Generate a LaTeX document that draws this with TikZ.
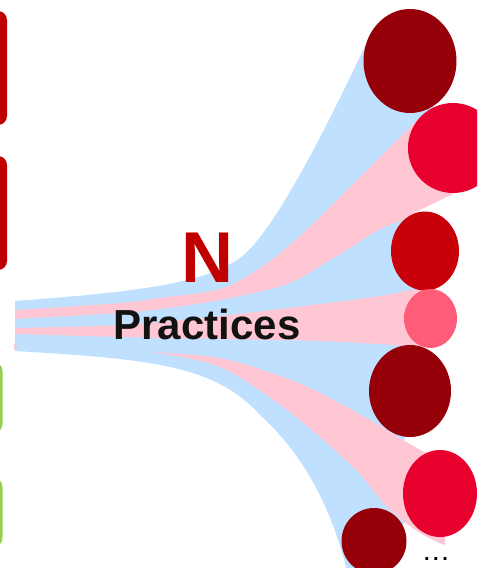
\documentclass[tikz,border=0pt]{standalone}
\usepackage{fontspec}
\setmainfont{Liberation Sans}
\usetikzlibrary{shapes.geometric}
\definecolor{bandblue}{RGB}{192,224,255}
\definecolor{bandpink}{RGB}{255,199,211}
\definecolor{dkred}{RGB}{150,0,8}
\definecolor{crimson}{RGB}{232,0,46}
\definecolor{midred}{RGB}{200,0,10}
\definecolor{rose}{RGB}{255,92,122}
\definecolor{titlered}{RGB}{192,0,0}
\definecolor{leafgreen}{RGB}{146,208,80}
\tikzset{
  blob/.style={ellipse, inner sep=0pt, outer sep=0pt},
  sidebox/.style={rounded corners=9pt},
  bandline/.style={smooth, tension=0.55},
}
\begin{document}
\begin{tikzpicture}[x=1pt,y=-1pt]
\useasboundingbox (0,0) rectangle (477,568);
\clip (0,0) rectangle (477,568);
% left boxes (only right edges visible)
\fill[titlered, sidebox] (-30,11) rectangle (7,125);
\fill[titlered, sidebox] (-30,156) rectangle (7,270);
\fill[leafgreen, sidebox] (-30,362) rectangle (2.5,433);
\fill[leafgreen, sidebox] (-30,478) rectangle (2.5,547);
% blue envelope
\fill[bandblue] (15,301) .. controls (150,291) and (205,282) .. (240,258) .. controls (275,232) and (330,120) .. (367,42)
  -- (410,61) -- (433,107) -- (445,150) -- (440,185) -- (405,217) -- (412,235) -- (425,250) -- (430,319) -- (410,391) -- (405,436) -- (400,470) -- (408,518) -- (395,535) -- (374,541) -- (362,590) -- (349,590) -- (348,575)
  .. controls (335,520) and (310,460) .. (260,415) .. controls (215,365) and (150,359) .. (15,351) -- cycle;
% pink bands
\fill[bandpink] plot[bandline] coordinates {(15,310) (120,303) (160,298) (220,289) (260,268) (300,236) (353,184) (420,117)}
  -- plot[bandline] coordinates {(455,193) (420,210) (400,221) (380,229) (353,246) (330,260) (287,284) (220,300) (160,309) (120,313) (15,319)} -- cycle;
\fill[bandpink] plot[bandline] coordinates {(15,328) (120,325) (220,316) (320,304) (380,296) (412,290) (432,289)}
  -- plot[bandline] coordinates {(434,348) (410,346) (320,341) (220,339) (120,337) (15,334)} -- cycle;
\fill[bandpink] plot[bandline] coordinates {(150,352) (220,358) (283,377) (320,393) (370,420) (403,440) (425,452) (445,458)}
  -- plot[bandline] coordinates {(445,545) (420,533) (387,507) (353,467) (287,410) (220,367) (150,352)} -- cycle;
\fill[bandpink] (14,343) -- (18,347) -- (14,350) -- cycle;
% circles
\node[blob, fill=dkred, minimum width=93pt, minimum height=104pt] (c1) at (410,61) {};
\node[blob, fill=crimson, minimum width=90pt, minimum height=90pt] (c2) at (453,148) {};
\node[blob, fill=midred, minimum width=68pt, minimum height=79pt] (c3) at (425,251) {};
\node[blob, fill=rose, minimum width=53pt, minimum height=59pt] (c4) at (430.5,318.5) {};
\node[blob, fill=dkred, minimum width=82pt, minimum height=92pt] (c5) at (410,391) {};
\node[blob, fill=crimson, minimum width=74pt, minimum height=87pt] (c6) at (440,493.5) {};
\node[blob, fill=dkred, minimum width=65pt, minimum height=66pt] (c7) at (374,541) {};
% texts
\node[anchor=base, inner sep=0pt, text=titlered, font=\bfseries\fontsize{72}{72}\selectfont] (ntext) at (207,282) {N};
\node[anchor=base, inner sep=0pt, text=black!93, font=\bfseries\fontsize{42}{42}\selectfont] (ptext) at (207,339) {Practices};
\node[anchor=base, inner sep=0pt, font=\bfseries\fontsize{20}{20}\selectfont] (dots) at (436,560) {.\kern3.5pt.\kern3.5pt.};
\end{tikzpicture}
\end{document}
